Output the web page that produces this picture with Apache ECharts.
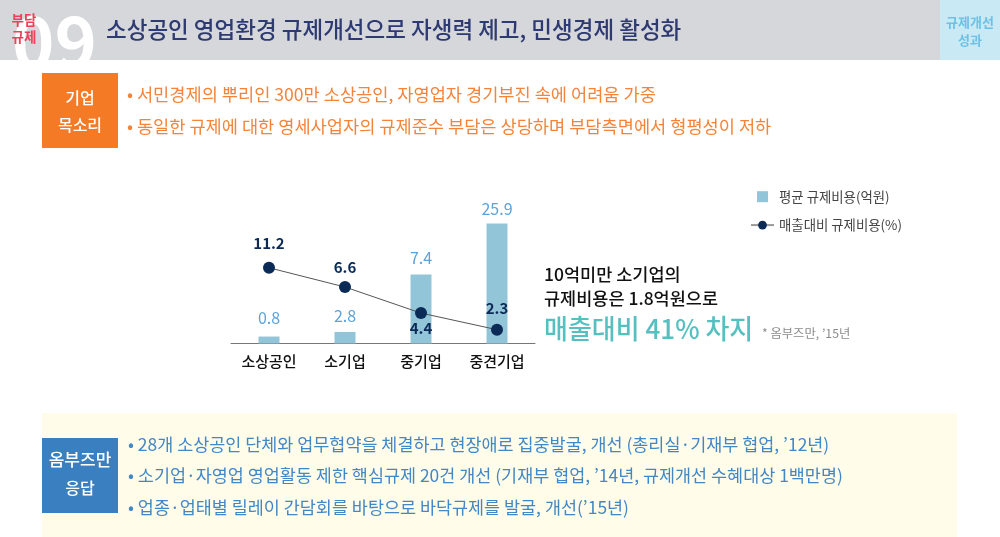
<!DOCTYPE html>
<html>
<head>
<meta charset="utf-8">
<title>규제개선 성과</title>
<script src="https://cdn.jsdelivr.net/npm/echarts@6/dist/echarts.min.js"></script>
<style>
html, body { margin: 0; padding: 0; background: #fff; }
#main-chart { width: 1000px; height: 537px; }
</style>
</head>
<body>
<div id="main-chart"></div>
<script>
var FONT = '"Noto Sans CJK KR", "Noto Sans", sans-serif';

var categories = ['소상공인', '소기업', '중기업', '중견기업'];
var barName = '평균 규제비용(억원)';
var lineName = '매출대비 규제비용(%)';

// printed values
var barLabels = ['0.8', '2.8', '7.4', '25.9'];
var lineLabels = ['11.2', '6.6', '4.4', '2.3'];

// the source is not drawn to scale, these are the heights as read off the picture
var barDrawn = [1.5, 2.5, 14.9, 25.9];
var lineDrawn = [11.2, 8.35, 4.5, 2.04];

var barLabelGap = [11, 8, 9, 7];
var lineLabelPos = ['top', 'top', 'bottom', 'top'];
var lineLabelGap = [11, 6, 2, 8];

var titleText = '소상공인 영업환경 규제개선으로 자생력 제고, 민생경제 활성화';
var voiceLines = [
    '• 서민경제의 뿌리인 300만 소상공인, 자영업자 경기부진 속에 어려움 가중',
    '• 동일한 규제에 대한 영세사업자의 규제준수 부담은 상당하며 부담측면에서 형평성이 저하'
];
var replyLines = [
    '• 28개 소상공인 단체와 업무협약을 체결하고 현장애로 집중발굴, 개선 (총리실·기재부 협업, ’12년)',
    '• 소기업·자영업 영업활동 제한 핵심규제 20건 개선 (기재부 협업, ’14년, 규제개선 수혜대상 1백만명)',
    '• 업종·업태별 릴레이 간담회를 바탕으로 바닥규제를 발굴, 개선(’15년)'
];

var mainChart;

window.onload = function () {
    mainChart = echarts.init(document.getElementById('main-chart'));
    mainChart.setOption(buildOption());
};

function rect(x, y, w, h, fill, z) {
    return { type: 'rect', shape: { x: x, y: y, width: w, height: h }, style: { fill: fill }, z: z, silent: true };
}

function text(str, x, y, size, color, weight, align, z, scaleX) {
    return {
        type: 'text', x: x, y: y, z: z || 5, silent: true, scaleX: scaleX || 1,
        style: {
            text: str, fill: color, fontSize: size, fontWeight: weight || 400,
            fontFamily: FONT, align: align || 'left', verticalAlign: 'middle'
        }
    };
}

function buildGraphic() {
    var g = [
        rect(0, 0, 1000, 60, '#d6d7da', 1),
        text('09', 12, 42, 72, '#ffffff', 700, 'left', 2),
        rect(0, 60, 1000, 60, '#ffffff', 3),
        rect(940, 0, 60, 60, '#c9e9f5', 3),
        text('부담', 24, 20, 13.5, '#ee4058', 700, 'center'),
        text('규제', 24, 37, 13.5, '#ee4058', 700, 'center'),
        text(titleText, 106, 29, 22.5, '#2e3a72', 500),
        text('규제개선', 970, 22, 13, '#6cc1e5', 700, 'center'),
        text('성과', 970, 40, 13, '#6cc1e5', 700, 'center'),

        rect(42, 73, 76, 75, '#f57a25', 3),
        text('기업', 80, 98, 16, '#ffffff', 500, 'center'),
        text('목소리', 80, 125, 16, '#ffffff', 500, 'center'),
        text(voiceLines[0], 127, 94, 17.6, '#f5843a', 400),
        text(voiceLines[1], 127, 126, 17.6, '#f5843a', 400),

        text('10억미만 소기업의', 544, 274, 17.5, '#111111', 500),
        text('규제비용은 1.8억원으로', 544, 298, 17.5, '#111111', 500),
        text('매출대비 41% 차지', 544, 329, 27, '#55c0c0', 500, 'left', 5, 0.963),
        text('* 옴부즈만, ’15년', 762, 333, 12.3, '#8a8a8a', 400),

        rect(42, 413, 915, 124, '#fffcea', 1),
        rect(42, 438, 76, 75, '#3a80c1', 3),
        text('옴부즈만', 80, 460, 17, '#ffffff', 500, 'center'),
        text('응답', 80, 488, 16, '#ffffff', 500, 'center')
    ];
    var replyY = [444, 475, 507];
    for (var i = 0; i < replyLines.length; i++) {
        g.push(text(replyLines[i], 128, replyY[i], 17.45, '#4287c6', 400));
    }
    return g;
}

function buildOption() {
    return {
        animation: false,
        textStyle: { fontFamily: FONT },
        graphic: { elements: buildGraphic() },
        legend: {
            orient: 'vertical',
            left: 745,
            top: 185,
            itemWidth: 23,
            itemHeight: 11,
            itemGap: 15,
            textStyle: { fontSize: 13.4, color: '#444444', fontFamily: FONT },
            data: [
                { name: barName, icon: 'path://M0 0H10V10H0Z' },
                { name: lineName, lineStyle: { color: '#999999' } }
            ]
        },
        grid: { left: 231, width: 304, top: 158.2, height: 185.3 },
        xAxis: {
            type: 'category',
            data: categories,
            axisTick: { show: false },
            axisLine: { lineStyle: { color: '#777777', width: 1 } },
            axisLabel: { fontSize: 15, color: '#111111', fontWeight: 500, margin: 10, fontFamily: FONT }
        },
        yAxis: [
            { type: 'value', min: 0, max: 40, show: false, splitLine: { show: false } },
            { type: 'value', min: 0, max: 27.4, show: false, splitLine: { show: false } }
        ],
        series: [{
            name: barName,
            type: 'bar',
            barWidth: 21,
            data: barDrawn.map(function (v, i) {
                return { value: v, label: { distance: barLabelGap[i] } };
            }),
            itemStyle: { color: '#93c5d9' },
            label: {
                show: true,
                position: 'top',
                fontSize: 16,
                color: '#5ba3dc',
                fontFamily: FONT,
                formatter: function (p) { return barLabels[p.dataIndex]; }
            }
        }, {
            name: lineName,
            type: 'line',
            yAxisIndex: 1,
            z: 5,
            symbol: 'circle',
            symbolSize: 12,
            data: lineDrawn.map(function (v, i) {
                return { value: v, label: { position: lineLabelPos[i], distance: lineLabelGap[i] } };
            }),
            lineStyle: { color: '#555555', width: 1 },
            itemStyle: { color: '#0b2a56' },
            label: {
                show: true,
                fontSize: 15,
                fontWeight: 700,
                color: '#0b2a56',
                fontFamily: FONT,
                formatter: function (p) { return lineLabels[p.dataIndex]; }
            }
        }]
    };
}
</script>
</body>
</html>
